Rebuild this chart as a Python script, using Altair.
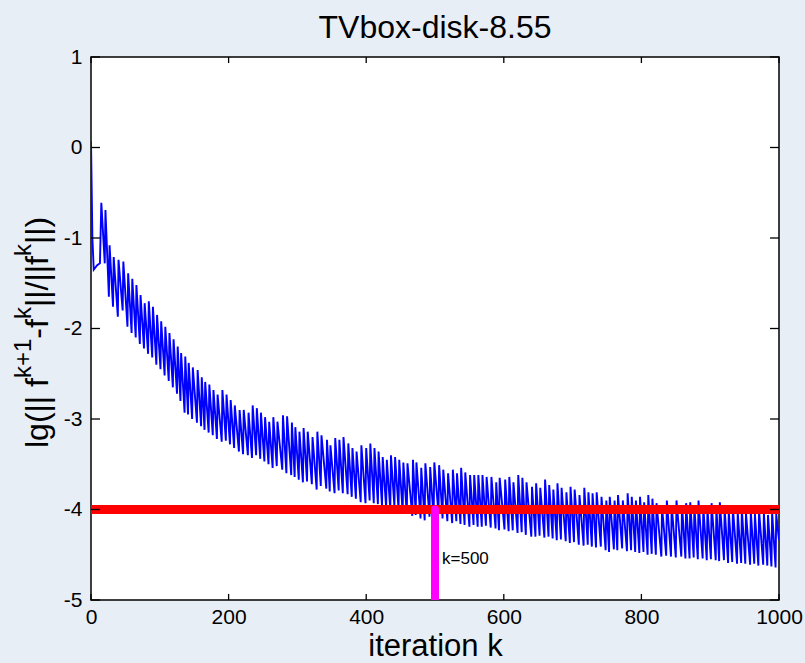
import altair as alt
import pandas as pd

# ---------------- data ----------------
start_iter = [0, 2, 4, 9, 13]
start_val = [0.07, -1.0, -1.35, -1.3, -1.28]

peak_iter = [
    15, 21, 27, 33, 40, 47, 54, 60, 66, 72,
    78, 84, 90, 96, 102, 108, 114, 120, 126, 131,
    137, 142, 148, 155, 161, 166, 172, 178, 184, 191,
    197, 203, 209, 216, 222, 229, 235, 241, 247, 253,
    259, 265, 271, 279, 285, 292, 297, 303, 309, 315,
    322, 329, 335, 343, 348, 355, 361, 367, 374, 380,
    386, 393, 400, 406, 412, 418, 424, 430, 436, 442,
    448, 454, 460, 468, 473, 480, 486, 493, 499, 506,
    512, 519, 526, 532, 538, 544, 551, 557, 563, 569,
    575, 582, 589, 594, 602, 608, 614, 621, 627, 633,
    641, 647, 653, 660, 666, 672, 678, 684, 691, 697,
    703, 710, 717, 723, 729, 735, 742, 749, 754, 761,
    766, 773, 780, 786, 792, 798, 804, 810, 816, 822,
    830, 837, 844, 851, 859, 865, 871, 877, 883, 890,
    896, 902, 909, 914, 921, 927, 933, 940, 946, 952,
    959, 965, 971, 978, 984, 990, 996,
]
peak_val = [
    -0.61, -0.69, -1.08, -1.21, -1.24, -1.26, -1.39, -1.45, -1.52, -1.63,
    -1.72, -1.70, -1.76, -1.85, -1.92, -1.98, -2.05, -2.12, -2.20, -2.27,
    -2.31, -2.38, -2.43, -2.46, -2.54, -2.59, -2.62, -2.68, -2.73, -2.68,
    -2.73, -2.79, -2.85, -2.90, -2.90, -2.93, -2.85, -2.88, -2.93, -2.98,
    -3.03, -2.98, -3.03, -2.96, -2.97, -3.04, -3.09, -3.14, -3.10, -3.14,
    -3.20, -3.14, -3.18, -3.23, -3.29, -3.21, -3.23, -3.20, -3.27, -3.32,
    -3.36, -3.29, -3.32, -3.27, -3.32, -3.36, -3.42, -3.45, -3.40, -3.42,
    -3.45, -3.48, -3.49, -3.45, -3.48, -3.54, -3.49, -3.53, -3.48, -3.51,
    -3.56, -3.60, -3.56, -3.60, -3.54, -3.59, -3.62, -3.62, -3.62, -3.62,
    -3.64, -3.64, -3.70, -3.65, -3.67, -3.64, -3.70, -3.62, -3.65, -3.70,
    -3.75, -3.71, -3.76, -3.67, -3.73, -3.78, -3.71, -3.76, -3.81, -3.75,
    -3.78, -3.84, -3.76, -3.81, -3.82, -3.81, -3.86, -3.90, -3.86, -3.90,
    -3.84, -3.90, -3.82, -3.86, -3.90, -3.86, -3.92, -3.84, -3.88, -3.93,
    -3.97, -3.90, -3.95, -3.90, -3.95, -3.93, -3.92, -3.97, -3.90, -3.97,
    -3.99, -3.93, -3.97, -3.92, -3.99, -4.02, -3.98, -4.03, -4.00, -4.04,
    -4.02, -4.05, -4.01, -4.04, -4.06, -4.03, -4.05,
]
trough_val = [
    -1.28, -1.65, -1.76, -1.87, -1.80, -1.98, -2.05, -2.10, -2.17, -2.22,
    -2.28, -2.32, -2.40, -2.45, -2.52, -2.58, -2.65, -2.72, -2.80, -2.93,
    -2.95, -3.00, -3.04, -3.08, -3.12, -3.15, -3.18, -3.22, -3.25, -3.24,
    -3.28, -3.32, -3.36, -3.39, -3.40, -3.43, -3.40, -3.44, -3.47, -3.50,
    -3.54, -3.52, -3.56, -3.60, -3.62, -3.64, -3.67, -3.70, -3.69, -3.72,
    -3.78, -3.74, -3.77, -3.80, -3.82, -3.79, -3.82, -3.83, -3.86, -3.88,
    -3.92, -3.93, -3.90, -3.93, -3.94, -3.96, -3.98, -4.00, -3.97, -4.00,
    -4.03, -4.05, -4.07, -4.06, -4.10, -4.12, -4.08, -4.10, -4.04, -4.10,
    -4.13, -4.15, -4.13, -4.16, -4.17, -4.19, -4.17, -4.19, -4.19, -4.18,
    -4.20, -4.21, -4.23, -4.22, -4.24, -4.23, -4.26, -4.25, -4.28, -4.30,
    -4.30, -4.29, -4.31, -4.30, -4.32, -4.34, -4.33, -4.35, -4.37, -4.36,
    -4.39, -4.40, -4.39, -4.41, -4.42, -4.41, -4.45, -4.47, -4.44, -4.45,
    -4.43, -4.46, -4.45, -4.47, -4.48, -4.47, -4.50, -4.49, -4.50, -4.52,
    -4.51, -4.52, -4.53, -4.52, -4.54, -4.54, -4.53, -4.55, -4.54, -4.56,
    -4.55, -4.56, -4.57, -4.56, -4.59, -4.58, -4.60, -4.59, -4.60, -4.61,
    -4.60, -4.62, -4.61, -4.62, -4.63, -4.64,
]
end_iter = [1000]
end_val = [-4.34]

threshold = [-4]        # red line
marker_k = [500]        # magenta line
x_ticks = [0, 200, 400, 600, 800, 1000]
y_ticks = [-5, -4, -3, -2, -1, 0, 1]
title_text = "TVbox-disk-8.55"

# y-axis title pieces: (text, is_superscript)
ylabel_parts = [("lg(|| f", False), ("k+1", True), ("-f", False), ("k", True),
                ("||/||f", False), ("k", True), ("||)", False)]

# ---------------- build the series table ----------------
# each tooth: peak, slow decay to its trough, then a one-step jump to the next peak
rows = [{"k": k, "v": v} for k, v in zip(start_iter, start_val)]
for i, (k, v) in enumerate(zip(peak_iter, peak_val)):
    rows.append({"k": k, "v": v})
    if i < len(trough_val):
        rows.append({"k": peak_iter[i + 1] - 1, "v": trough_val[i]})
rows += [{"k": k, "v": v} for k, v in zip(end_iter, end_val)]
series = pd.DataFrame(rows)
series["seq"] = range(len(series))

W, H = 688, 543
FONT = "Liberation Sans"
MAIN_FS, SUP_FS = 32, 24

xscale = alt.Scale(domain=[0, 1000], nice=False, zero=False)
yscale = alt.Scale(domain=[-5, 1], nice=False, zero=False)

line = alt.Chart(series).mark_line(color="#0000ff", strokeWidth=1.9, clip=True).encode(
    x=alt.X("k:Q", scale=xscale,
            axis=alt.Axis(values=x_ticks, tickSize=0, domain=False, grid=False,
                          labelExpr="datum.value + ''",
                          labelFontSize=21, labelFont=FONT, labelColor="#000",
                          labelPadding=6, labelFlush=False,
                          title="iteration k", titleFontSize=31, titleFont=FONT,
                          titleFontWeight="normal", titleColor="#000",
                          titleX=W / 2, titleY=55, titleBaseline="alphabetic")),
    y=alt.Y("v:Q", scale=yscale,
            axis=alt.Axis(values=y_ticks, tickSize=0, domain=False, grid=False,
                          labelExpr="datum.value + ''",
                          labelFontSize=21, labelFont=FONT, labelColor="#000",
                          labelPadding=9, title=None)),
    order="seq:Q",
)

red = alt.Chart(pd.DataFrame({"y": threshold})).mark_rule(
    color="#ff0000", strokeWidth=9, clip=True
).encode(y=alt.Y("y:Q", scale=yscale), x=alt.value(0), x2=alt.value(W))

mag = alt.Chart(pd.DataFrame({"k": marker_k, "y": [-5], "y2": threshold})).mark_rule(
    color="#ff00ff", strokeWidth=8, strokeCap="round", clip=True
).encode(x=alt.X("k:Q", scale=xscale), y=alt.Y("y:Q", scale=yscale), y2="y2:Q")

label = alt.Chart(pd.DataFrame({"k": marker_k, "y": [-4.55], "t": ["k=500"]})).mark_text(
    align="left", baseline="middle", fontSize=17, font=FONT, color="#000", dx=7
).encode(x=alt.X("k:Q", scale=xscale), y=alt.Y("y:Q", scale=yscale), text="t:N")

xt = pd.DataFrame({"t": x_ticks})
yt = pd.DataFrame({"t": y_ticks})
tick_style = dict(color="#000", strokeWidth=1.3)
tb = alt.Chart(xt).mark_rule(**tick_style).encode(
    x=alt.X("t:Q", scale=xscale), y=alt.value(H), y2=alt.value(H - 6))
tt = alt.Chart(xt).mark_rule(**tick_style).encode(
    x=alt.X("t:Q", scale=xscale), y=alt.value(0), y2=alt.value(6))
tl = alt.Chart(yt).mark_rule(**tick_style).encode(
    y=alt.Y("t:Q", scale=yscale), x=alt.value(0), x2=alt.value(9))
tr = alt.Chart(yt).mark_rule(**tick_style).encode(
    y=alt.Y("t:Q", scale=yscale), x=alt.value(W - 9), x2=alt.value(W))

# chart title as a text mark above the plot area
title = alt.Chart(pd.DataFrame({"t": [title_text]})).mark_text(
    align="center", baseline="alphabetic", fontSize=32, font=FONT, color="#000"
).encode(text="t:N", x=alt.value(W / 2), y=alt.value(-19))

# rotated y-axis title with real superscripts, built piece by piece
CW = {"l": 222, "g": 556, "(": 333, ")": 333, "|": 260, " ": 278, "f": 278,
      "k": 500, "+": 584, "1": 556, "-": 333, "/": 278}
pos = 391.0   # start (bottom) of the title, px from plot top
title_layers = []
for txt, sup in ylabel_parts:
    fs = SUP_FS if sup else MAIN_FS
    title_layers.append(
        alt.Chart(pd.DataFrame({"t": [txt]})).mark_text(
            angle=270, align="left", baseline="alphabetic", fontSize=fs,
            font=FONT, color="#000"
        ).encode(text="t:N", x=alt.value(-60 if sup else -43), y=alt.value(pos))
    )
    pos -= sum(CW.get(c, 500) for c in txt) / 1000 * fs

chart = alt.layer(line, red, mag, label, tb, tt, tl, tr, title, *title_layers).properties(
    width=W, height=H,
    autosize=alt.AutoSizeParams(type="none"),
    padding={"left": 91, "top": 57, "right": 26, "bottom": 63},
    background="#e8eef5",
).configure_view(
    fill="#ffffff", stroke="#000000", strokeWidth=1.5
)

chart.save("out.html", embed_options={"renderer": "svg", "actions": False})
